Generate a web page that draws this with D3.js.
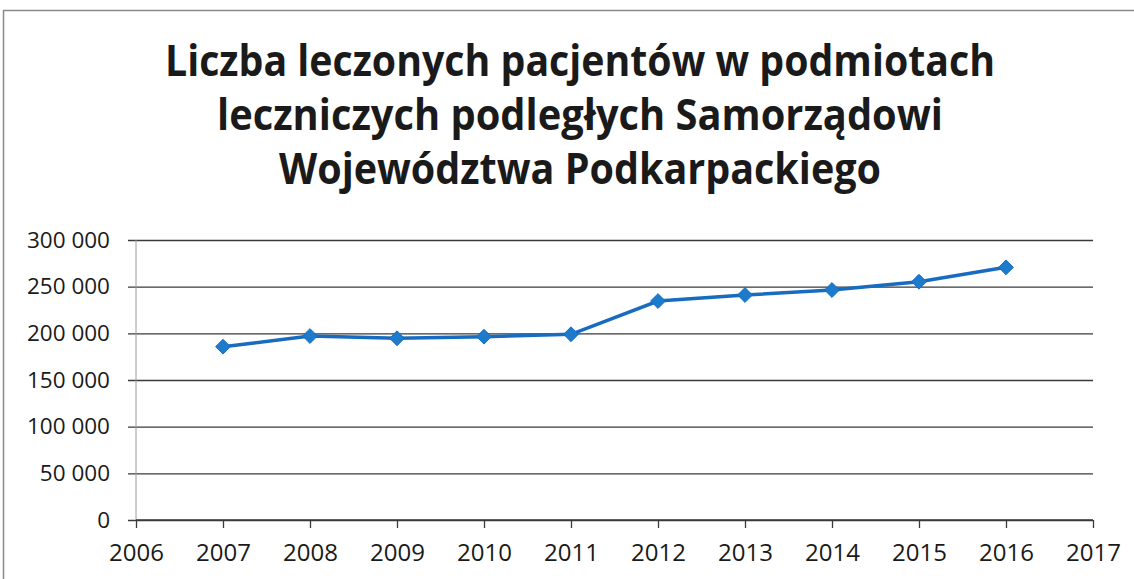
<!DOCTYPE html>
<html>
<head>
<meta charset="utf-8">
<script src="https://cdn.jsdelivr.net/npm/d3@7"></script>
<style>
  body { margin: 0; background: #fff; }
  text { font-family: "Open Sans", "Noto Sans", sans-serif; fill: #1a1a1a; }
</style>
</head>
<body>
<div id="chart"></div>
<script>
(function() {
  var W = 1134, H = 579;
  var margin = { top: 240, left: 136, right: 41, bottom: 59 },
    width = W - margin.left - margin.right,
    height = H - margin.top - margin.bottom;

  var titleLines = ["Liczba leczonych pacjentów w podmiotach",
                    "leczniczych podległych Samorządowi",
                    "Województwa Podkarpackiego"];
  // approximate widths of each title line in the original
  var titleWidths = [830, 726, 602];

  var years = [2007, 2008, 2009, 2010, 2011, 2012, 2013, 2014, 2015, 2016];
  var patients = [185700, 197100, 194700, 196400, 199000, 234600, 241100, 246400, 255300, 270700];

  var xTicks = [2006, 2007, 2008, 2009, 2010, 2011, 2012, 2013, 2014, 2015, 2016, 2017];
  var yTicks = [0, 50000, 100000, 150000, 200000, 250000, 300000];

  var svgRoot = d3.select("#chart")
    .append("svg")
    .attr("width", W)
    .attr("height", H);

  // frame of the chart area
  svgRoot.append("rect")
    .attr("x", 3.5).attr("y", 10.5)
    .attr("width", W + 10).attr("height", H + 10)
    .attr("fill", "none")
    .attr("stroke", "#8a8a8a")
    .attr("stroke-width", 1.5);

  svgRoot.selectAll(".title")
    .data(titleLines)
    .enter().append("text")
    .attr("class", "title")
    .attr("text-anchor", "middle")
    .attr("font-weight", "bold")
    .attr("font-size", 43)
    .attr("fill", "#1b1b26")
    .attr("x", 580)
    .attr("y", function(d, i) { return 76 + i * 54; })
    .attr("textLength", function(d, i) { return titleWidths[i]; })
    .attr("lengthAdjust", "spacingAndGlyphs")
    .text(function(d) { return d; });

  var svg = svgRoot.append("g")
    .attr("transform", "translate(" + margin.left + "," + margin.top + ")");

  var xPositionScale = d3.scaleLinear().domain([2006, 2017]).range([0, width]);
  var yPositionScale = d3.scaleLinear().domain([0, 300000]).range([height, 0]);

  var fmt = function(d) { return d3.format(",")(d).replace(/,/g, " "); };

  // y axis: gridlines + labels
  var yAxis = d3.axisLeft(yPositionScale)
    .tickValues(yTicks)
    .tickSize(-width - 8)
    .tickPadding(18)
    .tickFormat(fmt);

  svg.append("g")
    .attr("class", "axis y-axis")
    .attr("transform", "translate(-8,0)")
    .call(yAxis)
    .call(function(g) {
      g.select(".domain").remove();
      g.selectAll(".tick line").attr("stroke", "#3a3a3a").attr("stroke-width", 1.3);
      g.selectAll(".tick text").attr("font-size", 22.5).attr("fill", "#1a1a1a")
        .attr("font-family", "'Open Sans', sans-serif");
    });

  // vertical axis line
  svg.append("line")
    .attr("x1", 0).attr("x2", 0)
    .attr("y1", 0).attr("y2", height)
    .attr("stroke", "#9a9a9a")
    .attr("stroke-width", 1);

  var xAxis = d3.axisBottom(xPositionScale)
    .tickValues(xTicks)
    .tickSize(8)
    .tickPadding(16)
    .tickFormat(d3.format("d"));

  svg.append("g")
    .attr("class", "axis x-axis")
    .attr("transform", "translate(0," + height + ")")
    .call(xAxis)
    .call(function(g) {
      g.select(".domain").attr("stroke", "#3a3a3a").attr("stroke-width", 1.3)
        .attr("d", "M0,0H" + width);
      g.selectAll(".tick line").attr("stroke", "#3a3a3a").attr("stroke-width", 1.3);
      g.selectAll(".tick text").attr("font-size", 24).attr("fill", "#1a1a1a")
        .attr("font-family", "'Open Sans', sans-serif");
    });

  var datapoints = years.map(function(y, i) { return { year: y, value: patients[i] }; });

  var line = d3.line()
    .x(function(d) { return xPositionScale(d.year); })
    .y(function(d) { return yPositionScale(d.value); });

  svg.append("path")
    .datum(datapoints)
    .attr("d", line)
    .attr("fill", "none")
    .attr("stroke", "#176cc0")
    .attr("stroke-width", 3.5);

  svg.selectAll(".marker")
    .data(datapoints)
    .enter().append("path")
    .attr("class", "marker")
    .attr("d", d3.symbol().type(d3.symbolDiamond2).size(140))
    .attr("transform", function(d) {
      return "translate(" + xPositionScale(d.year) + "," + yPositionScale(d.value) + ")";
    })
    .attr("fill", "#1c7bcb")
    .attr("stroke", "#176cc0")
    .attr("stroke-width", 1);
})();
</script>
</body>
</html>
